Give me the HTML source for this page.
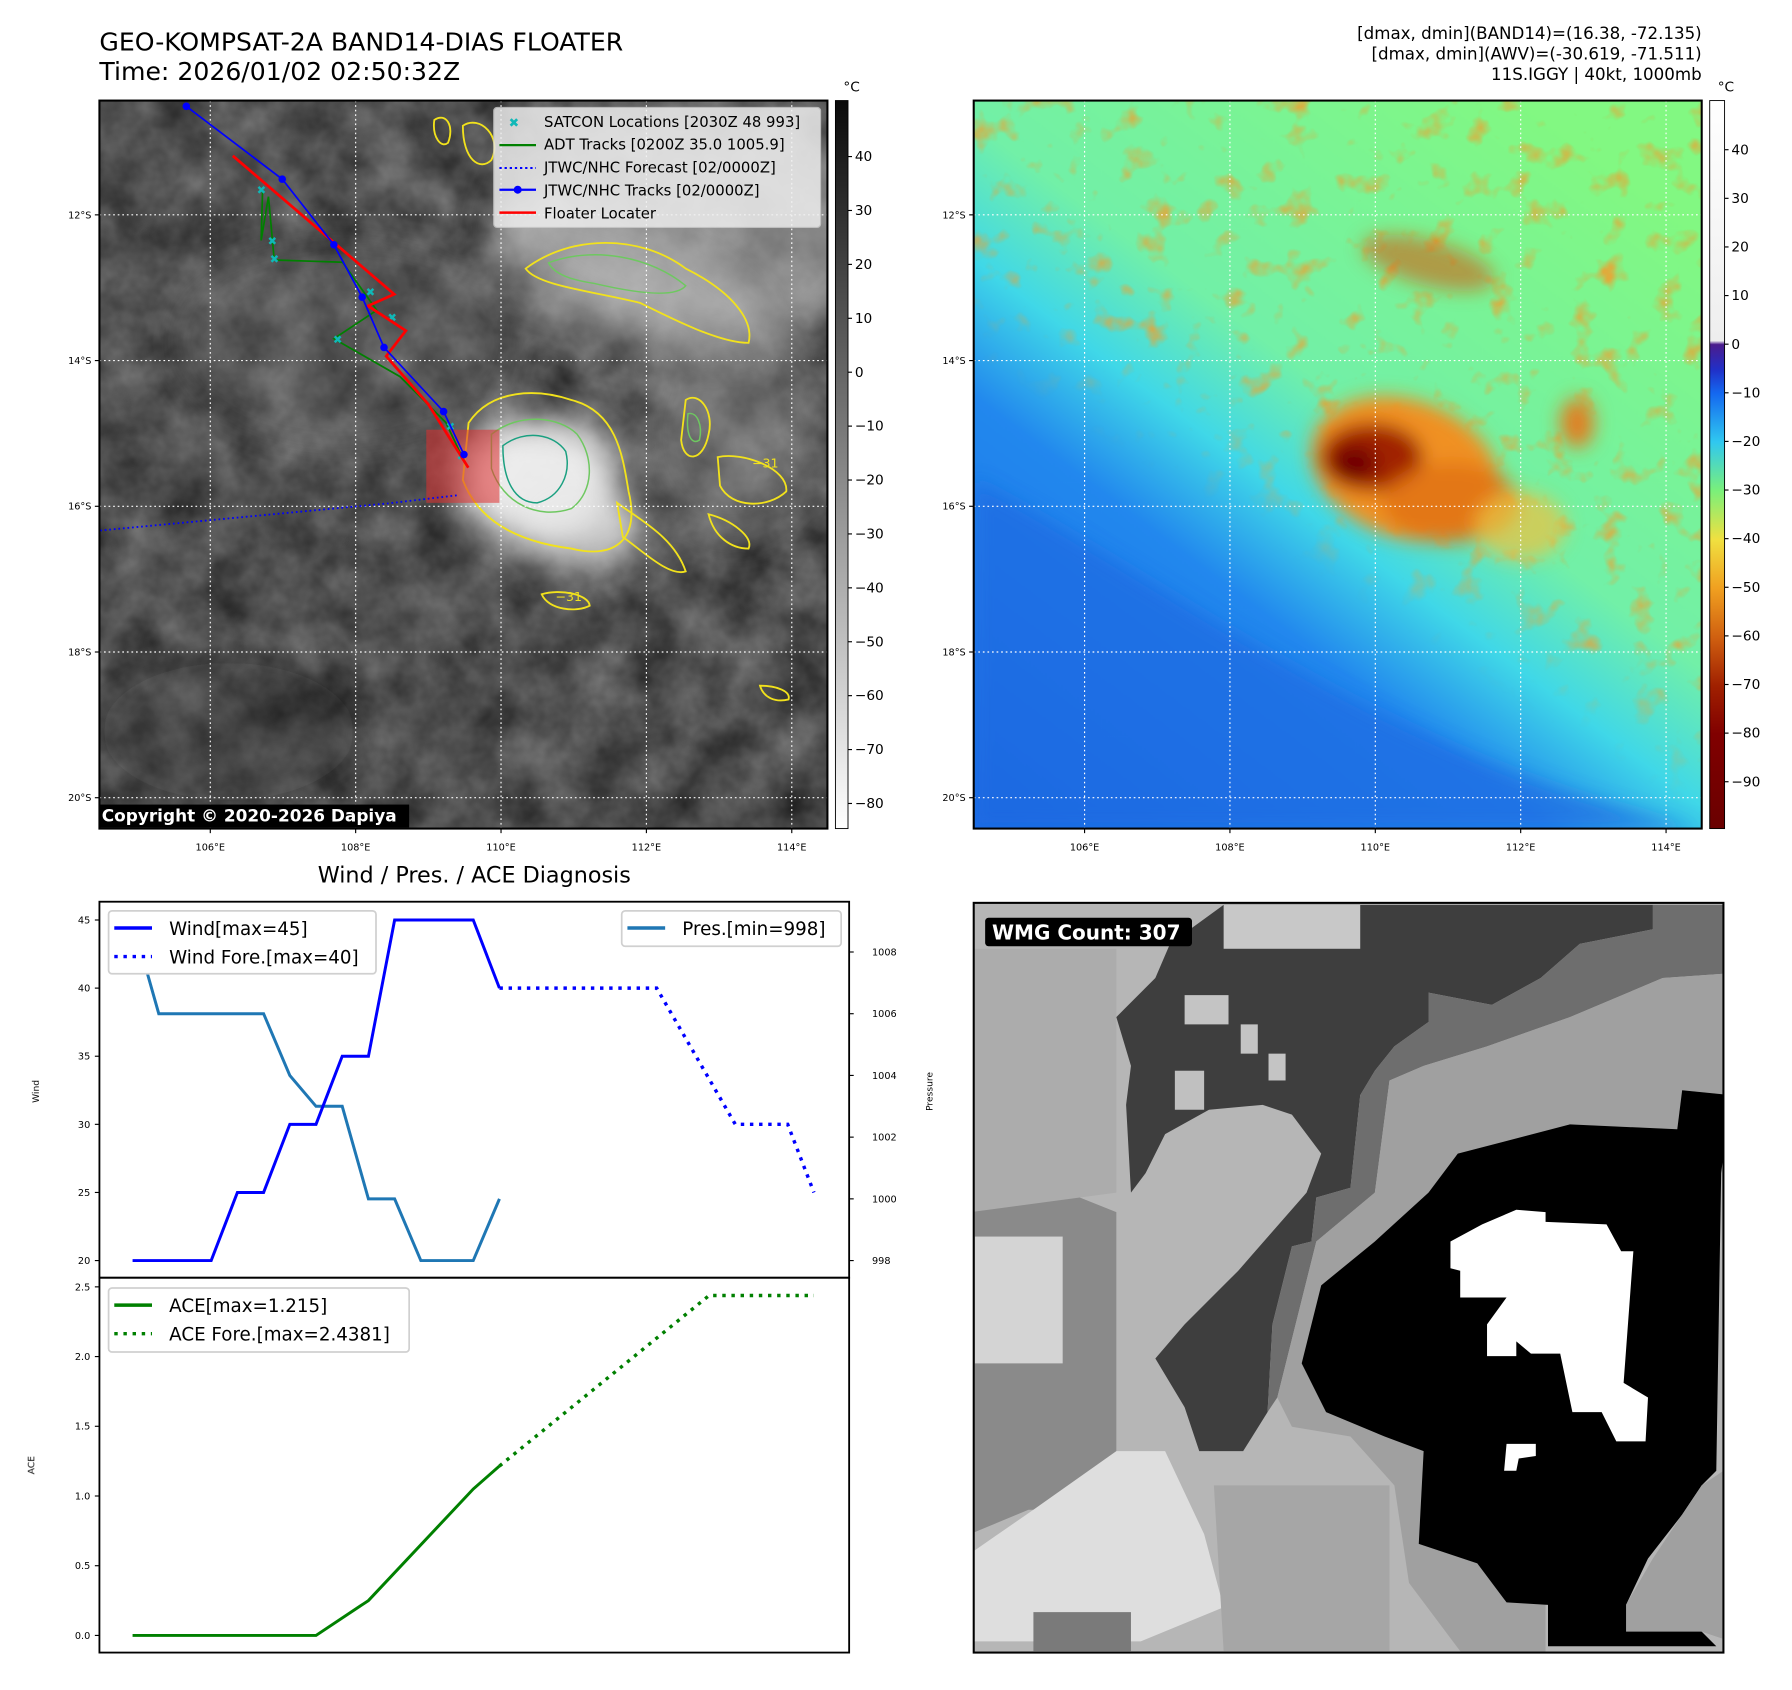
<!DOCTYPE html>
<html><head><meta charset="utf-8"><style>html,body{margin:0;padding:0;background:#fff}svg{display:block}text{font-family:"DejaVu Sans","Liberation Sans",sans-serif}</style></head>
<body>
<svg id="fig" xmlns="http://www.w3.org/2000/svg" width="1792" height="1690" viewBox="0 0 1568 1478.75">
<defs>
<filter id="clouds" filterUnits="userSpaceOnUse" x="87" y="88" width="637" height="637" color-interpolation-filters="sRGB">
<feTurbulence type="fractalNoise" baseFrequency="0.022" numOctaves="4" seed="7"/>
<feColorMatrix type="matrix" values="0.42 0 0 0 0.1  0.42 0 0 0 0.1  0.42 0 0 0 0.1  0 0 0 0 1"/>
</filter>
<filter id="clouds2" filterUnits="userSpaceOnUse" x="852" y="88" width="637" height="637" color-interpolation-filters="sRGB">
<feTurbulence type="fractalNoise" baseFrequency="0.04" numOctaves="3" seed="11"/>
<feColorMatrix type="matrix" values="0 0 0 0 0.95  0 0 0 0 0.62  0 0 0 0 0.18  3 0 0 0 -1.75"/>
</filter>
<filter id="blur8"><feGaussianBlur stdDeviation="8"/></filter>
<filter id="blur15"><feGaussianBlur stdDeviation="15"/></filter>
<clipPath id="clip1"><rect x="87" y="88" width="637" height="637"/></clipPath>
<clipPath id="clip2"><rect x="852" y="88" width="637" height="637"/></clipPath>
<linearGradient id="mgrad" x1="0.2" y1="0.75" x2="0.55" y2="0.2"><stop offset="0" stop-color="#000"/><stop offset="0.35" stop-color="#000"/><stop offset="0.6" stop-color="#fff"/><stop offset="1" stop-color="#fff"/></linearGradient>
<mask id="maskn" maskUnits="userSpaceOnUse" x="852" y="88" width="637" height="637"><rect x="852" y="88" width="637" height="637" fill="url(#mgrad)"/></mask>
<clipPath id="clip3"><rect x="852" y="790" width="656" height="656"/></clipPath>
<linearGradient id="cb1" x1="0" y1="0" x2="0" y2="1"><stop offset="0" stop-color="#0a0a0a"/><stop offset="1" stop-color="#ffffff"/></linearGradient>
<linearGradient id="cb2" x1="0" y1="0" x2="0" y2="1">
<stop offset="0" stop-color="#ffffff"/><stop offset="0.33" stop-color="#eeeeee"/><stop offset="0.335" stop-color="#4b1c8c"/>
<stop offset="0.37" stop-color="#2030c8"/><stop offset="0.402" stop-color="#1468f0"/><stop offset="0.469" stop-color="#30c8f0"/>
<stop offset="0.536" stop-color="#7af07a"/><stop offset="0.603" stop-color="#f0e040"/><stop offset="0.67" stop-color="#f0a020"/>
<stop offset="0.737" stop-color="#d06010"/><stop offset="0.804" stop-color="#a02000"/><stop offset="0.87" stop-color="#800000"/><stop offset="1" stop-color="#6a0000"/></linearGradient>
<linearGradient id="sea2" x1="0" y1="1" x2="0.75" y2="0">
<stop offset="0" stop-color="#1a6ee6"/><stop offset="0.38" stop-color="#2288ee"/><stop offset="0.5" stop-color="#40d8e8"/><stop offset="0.62" stop-color="#72f0a8"/><stop offset="1" stop-color="#82f882"/></linearGradient>
</defs>

<text x="87" y="44" font-size="22">GEO-KOMPSAT-2A BAND14-DIAS FLOATER</text>
<text x="87" y="70" font-size="22">Time: 2026/01/02 02:50:32Z</text>
<g font-size="14.6" text-anchor="end">
<text x="1489" y="34">[dmax, dmin](BAND14)=(16.38, -72.135)</text>
<text x="1489" y="52">[dmax, dmin](AWV)=(-30.619, -71.511)</text>
<text x="1489" y="70">11S.IGGY | 40kt, 1000mb</text>
</g>

<!-- MAP 1 -->
<g clip-path="url(#clip1)">
<rect x="87" y="88" width="637" height="637" filter="url(#clouds)"/>
<g filter="url(#blur15)" fill="#d8d8d8">
<ellipse cx="600" cy="200" rx="170" ry="110" fill="#bdbdbd" opacity="0.5"/>
<ellipse cx="560" cy="240" rx="130" ry="40" opacity="0.4" transform="rotate(25 560 240)"/>
<ellipse cx="470" cy="420" rx="70" ry="55" fill="#f4f4f4" opacity="0.95"/>
<ellipse cx="510" cy="460" rx="55" ry="38" fill="#e6e6e6" opacity="0.8"/>
<ellipse cx="640" cy="380" rx="80" ry="90" fill="#aaa" opacity="0.35"/>
<ellipse cx="300" cy="300" rx="150" ry="90" fill="#888" opacity="0.2"/>
<ellipse cx="200" cy="640" rx="110" ry="60" fill="#222" opacity="0.3"/>
</g>
<g fill="none" stroke="#f2e21c" stroke-width="1.6">
<path d="M410 370 C430 340 470 340 500 350 C540 360 545 400 550 430 C560 470 540 490 500 480 C460 475 420 460 405 420 Z"/>
<path d="M460 235 C500 205 560 205 600 235 C640 255 660 280 655 300 C630 300 590 280 560 265 C520 255 470 250 460 235 Z"/>
<path d="M600 350 C612 342 625 360 620 380 C615 405 598 405 596 385 Z"/>
<path d="M628 400 C650 395 690 410 688 430 C672 445 640 445 630 425 Z"/>
<path d="M474 520 C490 515 515 520 516 530 C505 536 480 534 474 520 Z"/>
<path d="M540 440 C560 455 590 470 600 500 C585 505 560 480 545 470 Z"/>
<path d="M380 105 C390 98 398 110 392 125 C386 130 378 120 380 105 Z"/>
<path d="M405 110 C420 100 440 120 430 140 C420 150 405 140 405 110 Z"/>
<path d="M620 450 C640 455 660 470 655 480 C640 480 625 470 620 450 Z"/>
<path d="M665 600 C680 600 692 605 690 612 C678 615 668 610 665 600 Z"/>
</g>
<g fill="none" stroke="#6ec860" stroke-width="1.3">
<path d="M430 380 C455 360 490 365 505 380 C520 400 520 430 500 445 C470 455 440 440 430 410 Z"/>
<path d="M480 230 C520 215 570 225 600 250 C590 262 550 255 520 248 C500 245 485 240 480 230 Z"/>
<path d="M602 362 C610 360 615 372 612 385 C605 390 600 380 602 362 Z"/>
</g>
<g stroke="#1aa080" stroke-width="1.3" fill="none"><path d="M440 390 C460 375 485 380 495 395 C500 415 490 435 470 440 C450 440 440 420 440 390 Z"/></g>
<text x="658" y="409" font-size="11" fill="#f2e21c">−31</text>
<text x="486" y="526" font-size="11" fill="#f2e21c">−31</text>
<rect x="373" y="376" width="64" height="64" fill="#e03030" opacity="0.55"/>
<g id="grid1" stroke="#fff" stroke-width="1" stroke-dasharray="1.5,2.5"></g>
<g id="tracks"></g>
</g>
<rect x="87" y="88" width="637" height="637" fill="none" stroke="#000" stroke-width="1.8"/>
<g>
<rect x="432" y="94" width="286" height="105" rx="3" fill="#f0f0f0" opacity="0.82" stroke="#ccc"/>
<g font-size="13">
<text x="445" y="111" fill="#10b8b8" font-weight="bold" font-size="11">✖</text><text x="476" y="111">SATCON Locations [2030Z 48 993]</text>
<line x1="437" y1="127" x2="469" y2="127" stroke="#008000" stroke-width="2"/><text x="476" y="131">ADT Tracks [0200Z 35.0 1005.9]</text>
<line x1="437" y1="147" x2="469" y2="147" stroke="#0000ff" stroke-width="1.8" stroke-dasharray="2,2.5"/><text x="476" y="151">JTWC/NHC Forecast [02/0000Z]</text>
<line x1="437" y1="166" x2="469" y2="166" stroke="#0000ff" stroke-width="2"/><circle cx="453" cy="166" r="3.5" fill="#0000ff"/><text x="476" y="171">JTWC/NHC Tracks [02/0000Z]</text>
<line x1="437" y1="186" x2="469" y2="186" stroke="#ff0000" stroke-width="2.2"/><text x="476" y="191">Floater Locater</text>
</g></g>
<g><rect x="87" y="704" width="271" height="20" fill="#000"/><text x="89" y="719" font-size="14.8" font-weight="bold" fill="#fff">Copyright © 2020-2026 Dapiya</text></g>
<g id="axes1" font-size="8.5"></g>
<rect x="731" y="88" width="11" height="637" fill="url(#cb1)" stroke="#000" stroke-width="0.8"/>
<text x="738" y="80" font-size="12">°C</text>
<g id="cbt1" font-size="12"></g>

<!-- MAP 2 -->
<g clip-path="url(#clip2)">
<rect x="852" y="88" width="637" height="637" fill="url(#sea2)"/>
<g mask="url(#maskn)"><rect x="852" y="88" width="637" height="637" filter="url(#clouds2)" opacity="0.85"/></g>
<g filter="url(#blur8)">
<path d="M852 420 C950 470 1080 560 1200 620 C1300 670 1380 700 1489 725 L852 725 Z" fill="#1a66e0" opacity="0.6"/>
<ellipse cx="1230" cy="410" rx="85" ry="60" fill="#f09020" transform="rotate(20 1230 410)"/>
<ellipse cx="1200" cy="400" rx="45" ry="30" fill="#a02000"/>
<ellipse cx="1185" cy="405" rx="20" ry="15" fill="#700000"/>
<ellipse cx="1270" cy="440" rx="60" ry="35" fill="#e07010" opacity="0.8"/>
<ellipse cx="1250" cy="230" rx="60" ry="20" fill="#d06010" opacity="0.6" transform="rotate(15 1250 230)"/>
<ellipse cx="1380" cy="370" rx="15" ry="22" fill="#e08020"/>
<ellipse cx="1330" cy="460" rx="40" ry="30" fill="#f0c040" opacity="0.7"/>
</g>
<g id="grid2" stroke="#fff" stroke-width="1" stroke-dasharray="1.5,2.5"></g>
</g>
<rect x="852" y="88" width="637" height="637" fill="none" stroke="#000" stroke-width="1.8"/>
<g id="axes2" font-size="8.5"></g>
<rect x="1496" y="88" width="13" height="637" fill="url(#cb2)" stroke="#000" stroke-width="0.8"/>
<text x="1503" y="80" font-size="12">°C</text>
<g id="cbt2" font-size="12"></g>

<text x="415" y="772" font-size="19.5" text-anchor="middle">Wind / Pres. / ACE Diagnosis</text>
<g id="chart"></g>

<!-- WMG panel -->
<g clip-path="url(#clip3)">
<g transform="translate(848.75,787.5) scale(0.4268)">
<rect x="0" y="0" width="1570" height="1560" fill="#b6b6b6"/>
<path d="M0 640 L200 600 L300 640 L300 1250 L120 1250 L0 1300 Z" fill="#8a8a8a"/>
<path d="M0 100 L300 100 L300 600 L0 640 Z" fill="#acacac"/>
<rect x="10" y="690" width="180" height="260" fill="#d4d4d4"/>
<path d="M0 1340 L130 1250 L300 1130 L400 1130 L480 1300 L520 1450 L350 1520 L0 1520 Z" fill="#dedede"/>
<path d="M130 1460 L330 1460 L330 1540 L130 1540 Z" fill="#7a7a7a"/>
<path d="M500 1200 L860 1200 L860 1540 L520 1540 Z" fill="#a6a6a6"/>
<path d="M410 90 L520 10 L1400 10 L1400 60 L1250 90 L1170 160 L1070 215 L940 190 L940 250 L870 300 L830 350 L800 400 L780 590 L710 610 L700 700 L660 710 L620 870 L610 1050 L560 1130 L470 1130 L440 1040 L380 940 L440 870 L550 760 L620 680 L690 600 L720 520 L660 440 L600 420 L490 430 L400 480 L360 560 L330 600 L320 420 L330 340 L300 240 L380 160 Z" fill="#3e3e3e"/>
<rect x="440" y="195" width="90" height="60" fill="#c4c4c4"/><rect x="555" y="255" width="35" height="60" fill="#c4c4c4"/><rect x="612" y="315" width="35" height="55" fill="#c4c4c4"/>
<rect x="420" y="350" width="60" height="80" fill="#c0c0c0"/><rect x="520" y="10" width="280" height="90" fill="#c8c8c8"/>
<path d="M1070 215 L1170 160 L1250 90 L1400 60 L1400 10 L1560 10 L1560 150 L1420 160 L1230 240 L1060 300 L930 340 L860 370 L830 600 L710 700 L680 820 L630 1020 L610 1050 L620 870 L660 710 L700 700 L710 610 L780 590 L800 400 L830 350 L870 300 L940 250 L940 190 Z" fill="#6e6e6e"/>
<path d="M1560 150 L1560 400 L1460 390 L1450 470 L1230 460 L1000 520 L940 600 L830 700 L720 790 L680 950 L730 1050 L850 1100 L930 1130 L920 1320 L1040 1360 L1100 1440 L1180 1440 L1180 1560 L1020 1560 L900 1400 L870 1200 L780 1100 L660 1080 L630 1020 L680 820 L710 700 L830 600 L860 370 L930 340 L1060 300 L1230 240 L1420 160 Z" fill="#a0a0a0"/>
<path d="M720 790 L830 700 L940 600 L1000 520 L1230 460 L1450 470 L1460 390 L1560 400 L1540 560 L1530 1170 L1500 1200 L1460 1260 L1390 1350 L1345 1445 L1500 1500 L1530 1530 L1185 1530 L1185 1445 L1100 1440 L1040 1360 L920 1320 L930 1130 L850 1100 L730 1050 L680 950 Z" fill="#000"/>
<path d="M1560 1160 L1500 1200 L1400 1350 L1345 1445 L1345 1500 L1500 1500 L1560 1520 Z" fill="#a0a0a0"/>
<path d="M985 700 L1050 665 L1120 635 L1180 640 L1180 660 L1305 665 L1335 720 L1360 720 L1340 990 L1390 1020 L1385 1110 L1325 1110 L1295 1050 L1235 1050 L1210 930 L1150 930 L1120 905 L1120 935 L1060 935 L1060 870 L1100 815 L1005 815 L1005 760 L985 755 Z" fill="#fff"/>
<path d="M1100 1115 L1160 1115 L1160 1140 L1125 1145 L1120 1170 L1095 1170 Z" fill="#fff"/>
</g></g>
<rect x="852" y="790" width="656" height="656" fill="none" stroke="#000" stroke-width="1.8"/>
<g><rect x="862" y="803" width="181" height="25" rx="3" fill="#000"/><text x="868" y="822" font-size="17.5" font-weight="bold" fill="#fff">WMG Count: 307</text></g>

<script>
const windObs = [20,20,20,20,25,25,30,30,35,35,45,45,45,45,40];
const windFcstT = [14,20,23,25,26];
const windFcst = [40,40,30,30,25];
const presObs = [1009,1006,1006,1006,1006,1006,1004,1003,1003,1000,1000,998,998,998,1000];
const aceT = [0,7,9,13,14];
const aceObs = [0,0,0.25,1.05,1.215];
const aceFcstT = [14,22,26];
const aceFcst = [1.215,2.4381,2.4381];
const windTicks = [20,25,30,35,40,45];
const presTicks = [998,1000,1002,1004,1006,1008];
const aceTicks = [0.0,0.5,1.0,1.5,2.0,2.5];
const lonTicks = [106,108,110,112,114];
const latTicks = [-12,-14,-16,-18,-20];
const cb1Ticks = [40,30,20,10,0,-10,-20,-30,-40,-50,-60,-70,-80];
const cb2Ticks = [40,30,20,10,0,-10,-20,-30,-40,-50,-60,-70,-80,-90];
const jtwcLon = [105.67,106.99,107.70,108.09,108.39,109.21,109.49];
const jtwcLat = [-10.51,-11.51,-12.41,-13.13,-13.82,-14.70,-15.29];
const fcstLon = [109.39,108.45,104.3];
const fcstLat = [-15.85,-15.96,-16.35];
const adtLon = [106.72,106.70,106.80,106.88,107.82,108.29,107.70,108.61,109.24,109.47];
const adtLat = [-11.64,-12.35,-11.75,-12.62,-12.65,-13.31,-13.70,-14.22,-14.85,-15.33];
const redLon = [106.31,107.2,108.53,108.17,108.69,108.42,109.0,109.55];
const redLat = [-11.19,-11.95,-13.09,-13.25,-13.59,-13.94,-14.6,-15.47];
const satLon = [106.7,106.85,106.88,108.2,108.5,107.75,109.3,109.45];
const satLat = [-11.65,-12.35,-12.6,-13.05,-13.4,-13.7,-14.9,-15.3];

const NS='http://www.w3.org/2000/svg';
function mk(tag,attrs,parent,txt){const e=document.createElementNS(NS,tag);for(const k in attrs)e.setAttribute(k,attrs[k]);if(txt!==undefined)e.textContent=txt;parent.appendChild(e);return e;}
function $(id){return document.getElementById(id);}

function mapAxes(x0,gridId,axesId){
  const lonX=l=>x0+97+(l-106)*63.6, latY=l=>188+(-l-12)*63.75;
  const g=$(gridId), a=$(axesId);
  lonTicks.forEach(l=>{const x=lonX(l);mk('line',{x1:x,y1:88,x2:x,y2:725},g);
    mk('line',{x1:x,y1:725,x2:x,y2:729,stroke:'#000'},a);
    const t=mk('text',{x:x,y:744,'text-anchor':'middle'},a,l+'°E');
    
    });
  latTicks.forEach(l=>{const y=latY(l);mk('line',{x1:x0,y1:y,x2:x0+637,y2:y},g);
    mk('line',{x1:x0-4,y1:y,x2:x0,y2:y,stroke:'#000'},a);
    const t=mk('text',{x:x0-7,y:y+3,'text-anchor':'end'},a,(-l)+'°S');
    
    });
  return [lonX,latY];
}
const [lonX,latY]=mapAxes(87,'grid1','axes1');
mapAxes(852,'grid2','axes2');

const tr=$('tracks');
const pts=(lo,la)=>lo.map((l,i)=>lonX(l)+','+latY(la[i])).join(' ');
let p;
p=mk('polyline',{points:pts(adtLon,adtLat),fill:'none',stroke:'#008000','stroke-width':1.5},tr);


satLon.forEach((l,i)=>{const s=mk('text',{x:lonX(l)-4,y:latY(satLat[i])+4,'font-size':10,fill:'#10b8b8','font-weight':'bold'},tr,'✖');
  
  });
p=mk('polyline',{points:pts(redLon,redLat),fill:'none',stroke:'#ff0000','stroke-width':2.4},tr);


p=mk('polyline',{points:pts(fcstLon,fcstLat),fill:'none',stroke:'#0000ff','stroke-width':1.6,'stroke-dasharray':'1.5,2.5'},tr);


p=mk('polyline',{points:pts(jtwcLon,jtwcLat),fill:'none',stroke:'#0000ff','stroke-width':1.5},tr);


jtwcLon.forEach((l,i)=>{const c=mk('circle',{cx:lonX(l),cy:latY(jtwcLat[i]),r:3.3,fill:'#0000ff'},tr);
  
  });

function cbTicks(id,x,ticks,y40,per){const g=$(id);ticks.forEach(v=>{const y=y40+(40-v)*per;
  mk('line',{x1:x,y1:y,x2:x+3.5,y2:y,stroke:'#000'},g);
  const t=mk('text',{x:x+6,y:y+4},g,v<0?'−'+(-v):String(v));
  
  });}
cbTicks('cbt1',742,cb1Ticks,137,4.717);
cbTicks('cbt2',1509,cb2Ticks,131,4.254);

const ch=$('chart');
const X=i=>116+i*22.93, WY=v=>1103-(v-20)*11.92, PY=v=>1103-(v-998)*27, AY=v=>1431-v*122;
mk('rect',{x:87,y:789,width:656,height:329,fill:'none',stroke:'#000','stroke-width':1.6},ch);
mk('rect',{x:87,y:1118,width:656,height:328,fill:'none',stroke:'#000','stroke-width':1.6},ch);
const tg=mk('g',{'font-size':8.5},ch);
windTicks.forEach(v=>{const y=WY(v);mk('line',{x1:83,y1:y,x2:87,y2:y,stroke:'#000'},tg);
  const t=mk('text',{x:79,y:y+3,'text-anchor':'end'},tg,String(v));
  
  });
presTicks.forEach(v=>{const y=PY(v);mk('line',{x1:743,y1:y,x2:747,y2:y,stroke:'#000'},tg);
  const t=mk('text',{x:763,y:y+3},tg,String(v));
  
  });
aceTicks.forEach(v=>{const y=AY(v);mk('line',{x1:83,y1:y,x2:87,y2:y,stroke:'#000'},tg);
  const t=mk('text',{x:79,y:y+3,'text-anchor':'end'},tg,v.toFixed(1));
  
  });
let t;
t=mk('text',{x:34,y:955,'font-size':8,'text-anchor':'middle',transform:'rotate(-90 34 955)'},ch,'Wind');


t=mk('text',{x:816,y:955,'font-size':8,'text-anchor':'middle',transform:'rotate(-90 816 955)'},ch,'Pressure');


t=mk('text',{x:30,y:1282,'font-size':8,'text-anchor':'middle',transform:'rotate(-90 30 1282)'},ch,'ACE');



p=mk('polyline',{points:presObs.map((v,i)=>X(i)+','+PY(v)).join(' '),fill:'none',stroke:'#1f77b4','stroke-width':2.6},ch);


p=mk('polyline',{points:windObs.map((v,i)=>X(i)+','+WY(v)).join(' '),fill:'none',stroke:'#0000ff','stroke-width':2.6},ch);


p=mk('polyline',{points:windFcst.map((v,i)=>X(windFcstT[i])+','+WY(v)).join(' '),fill:'none',stroke:'#0000ff','stroke-width':3,'stroke-dasharray':'3,5'},ch);


p=mk('polyline',{points:aceObs.map((v,i)=>X(aceT[i])+','+AY(v)).join(' '),fill:'none',stroke:'#008000','stroke-width':2.6},ch);


p=mk('polyline',{points:aceFcst.map((v,i)=>X(aceFcstT[i])+','+AY(v)).join(' '),fill:'none',stroke:'#008000','stroke-width':3,'stroke-dasharray':'3,5'},ch);



function legend(x,y,w,h,items,name){const g=mk('g',{},ch);
  
  
  mk('rect',{x:x,y:y,width:w,height:h,rx:3,fill:'#fff',stroke:'#d0d0d0','stroke-width':1.5},g);
  items.forEach((it,k)=>{const yy=y+15+k*25;
    const a={x1:x+5,y1:yy,x2:x+38,y2:yy,stroke:it[1],'stroke-width':3};if(it[2])a['stroke-dasharray']='3,5';
    mk('line',a,g);mk('text',{x:x+53,y:yy+6,'font-size':16},g,it[0]);});}
legend(95,797,234,55,[['Wind[max=45]','#0000ff',0],['Wind Fore.[max=40]','#0000ff',1]],'wind-legend');
legend(544,797,192,31,[['Pres.[min=998]','#1f77b4',0]],'pressure-legend');
legend(95,1127,263,56,[['ACE[max=1.215]','#008000',0],['ACE Fore.[max=2.4381]','#008000',1]],'ace-legend');
</script>
</svg>
</body></html>
